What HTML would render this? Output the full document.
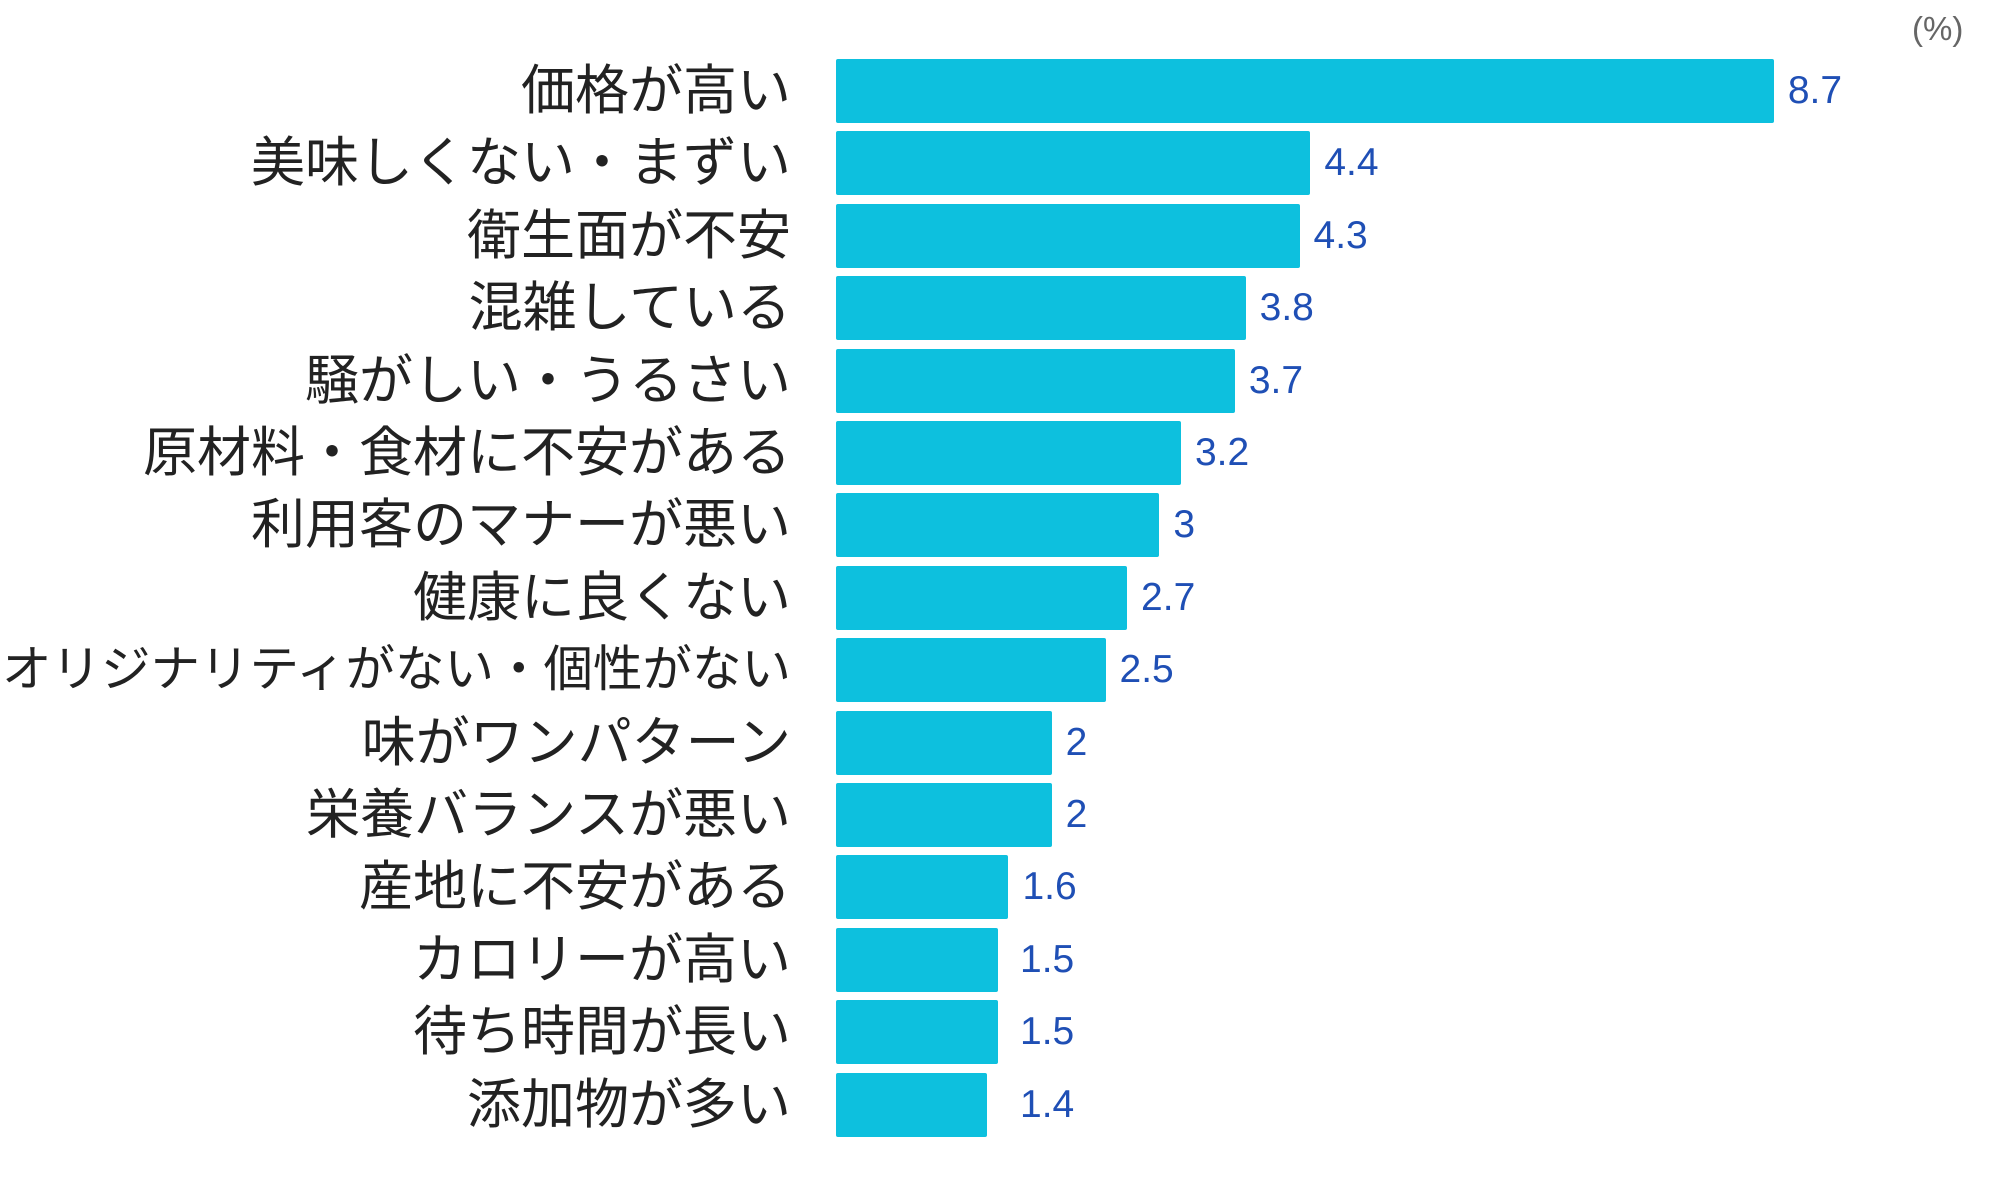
<!DOCTYPE html>
<html><head><meta charset="utf-8"><style>
html,body{margin:0;padding:0;background:#fff;}
#c{position:relative;width:2000px;height:1200px;overflow:hidden;font-family:"Liberation Sans","Noto Sans CJK JP",sans-serif;}
.l{position:absolute;right:1209px;font-size:54px;color:#222;white-space:nowrap;line-height:64px;height:64px;}
.b{position:absolute;left:836px;height:64px;background:#0dc0de;border-radius:2px;}
.v{position:absolute;font-size:39px;color:#1f4fb5;line-height:64px;height:64px;}
</style></head><body><div id="c">
<div style="position:absolute;left:1912px;top:10px;font-size:33px;color:#666;">(%)</div>
<div id="rows"></div>
<script>
var d=[["価格が高い",8.7],["美味しくない・まずい",4.4],["衛生面が不安",4.3],["混雑している",3.8],["騒がしい・うるさい",3.7],["原材料・食材に不安がある",3.2],["利用客のマナーが悪い",3],["健康に良くない",2.7],["オリジナリティがない・個性がない",2.5],["味がワンパターン",2],["栄養バランスが悪い",2],["産地に不安がある",1.6],["カロリーが高い",1.5],["待ち時間が長い",1.5],["添加物が多い",1.4]];
var h="";
d.forEach(function(r,i){
 var t=59+i*72.4, w=r[1]*107.8;
 var fs=i==8?"font-size:49.5px;":"";
 var vx=Math.max(836+w+14,1020);
 h+='<div class="l" style="top:'+t+'px;'+fs+'">'+r[0]+'</div>';
 h+='<div class="b" style="top:'+t+'px;width:'+w+'px"></div>';
 h+='<div class="v" style="top:'+t+'px;left:'+vx+'px">'+r[1]+'</div>';
});
document.getElementById("rows").innerHTML=h;
</script>
</div></body></html>
